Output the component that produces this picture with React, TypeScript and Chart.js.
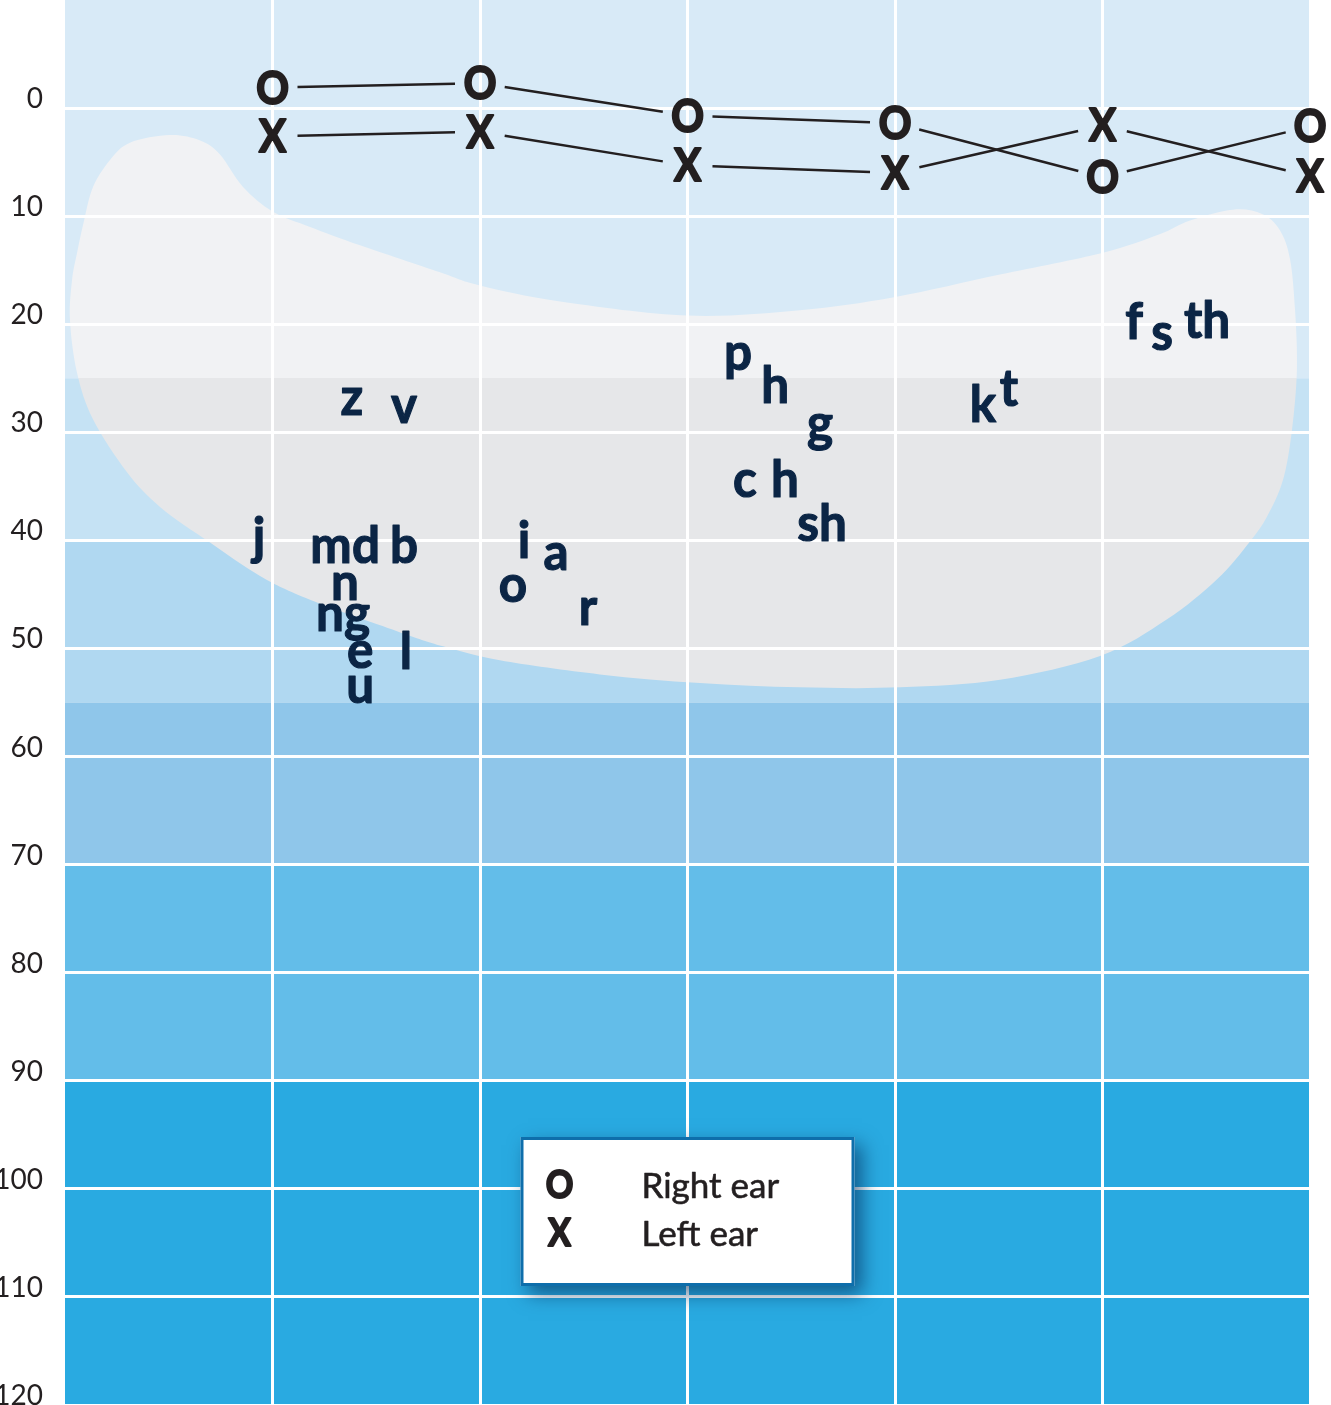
import React, { useEffect, useRef } from 'react';
import { Chart, registerables } from 'chart.js';

Chart.register(...registerables);

// Frequencies (octave index on the x axis: 0 = 125 Hz, 1 = 250 Hz ...)
const frequencies = ['250', '500', '1000', '2000', '4000', '8000'];
const freqIndex = [1, 2, 3, 4, 5, 6];

// Hearing levels (dB HL)
const rightEar = [-1.9, -2.3, 0.7, 1.4, 6.4, 1.7];
const leftEar = [2.6, 2.2, 5.3, 6.0, 1.6, 6.3];
const earLabels = ['Right ear', 'Left ear'];
const earSymbols = ['O', 'X'];

// Background severity bands (dB HL)
const bandEdges = [-10, 25, 40, 55, 70, 90, 120];
const bandColors = ['#d8eaf7', '#c5e2f4', '#b0d8f1', '#8fc6ea', '#63bde9', '#29aae1'];

// Speech sounds
const speechSounds = ['z', 'v', 'j', 'm', 'd', 'b', 'n', 'ng', 'e', 'u', 'l', 'i', 'a', 'o', 'r', 'p', 'h', 'g', 'c', 'h', 'sh', 'k', 't', 'f', 's', 'th'];
const speechOctave = [1.383, 1.634, 0.935, 1.282, 1.451, 1.634, 1.349, 1.34, 1.422, 1.422, 1.643, 2.212, 2.366, 2.159, 2.52, 3.243, 3.422, 3.639, 3.277, 3.47, 3.648, 4.424, 4.549, 5.152, 5.287, 5.504];
const speechLevel = [28.4, 29.1, 41.3, 42.1, 42.1, 42.1, 45.5, 48.4, 51.8, 55.0, 51.9, 41.6, 42.7, 45.7, 47.8, 24.2, 27.3, 30.8, 36.0, 36.0, 40.1, 29.0, 27.6, 21.4, 22.4, 21.3];

// Speech banana outline
const bananaOctave = [0.024, 0.034, 0.058, 0.092, 0.135, 0.217, 0.313, 0.506, 0.651, 0.747, 0.858, 1.002, 1.181, 1.422, 1.807, 1.995, 2.386, 3.002, 3.542, 3.995, 4.506, 4.998, 5.272, 5.422, 5.629, 5.769, 5.855, 5.904, 5.928, 5.937, 5.913, 5.87, 5.793, 5.711, 5.552, 5.311, 4.988, 4.506, 4.024, 3.542, 3.06, 2.578, 2.096, 1.822, 1.6, 1.181, 0.94, 0.699, 0.458, 0.299, 0.135, 0.058];
const bananaLevel = [19.6, 15.9, 13.4, 10.4, 7.3, 4.8, 3.2, 2.5, 3.0, 4.3, 7.3, 9.6, 11.0, 12.7, 15.2, 16.4, 17.9, 19.2, 18.7, 17.5, 15.4, 13.4, 11.7, 10.4, 9.4, 9.8, 11.3, 14.0, 18.7, 24.2, 29.8, 34.4, 37.8, 40.1, 43.6, 47.3, 50.7, 52.9, 53.6, 53.6, 53.2, 52.4, 51.1, 49.8, 48.4, 45.5, 43.3, 40.2, 36.9, 33.7, 28.8, 24.5];
const bananaSplitLevel = 25;

const TEXT_DARK = '#231f20';
const SPEECH_COLOR = '#0b2545';
const FONT = 'Lato, "Open Sans", sans-serif';

const backgroundPlugin = {
  id: 'audiogramBackground',
  beforeDraw(chart: any) {
    const { ctx, chartArea, scales } = chart;
    const x = scales.x;
    const y = scales.y;
    ctx.save();
    for (let i = 0; i < bandColors.length; i++) {
      const y0 = y.getPixelForValue(bandEdges[i]);
      const y1 = y.getPixelForValue(bandEdges[i + 1]);
      ctx.fillStyle = bandColors[i];
      ctx.fillRect(chartArea.left, y0, chartArea.right - chartArea.left, y1 - y0);
    }
    // speech banana
    const pts = bananaOctave.map((o, i) => ({ x: x.getPixelForValue(o), y: y.getPixelForValue(bananaLevel[i]) }));
    const n = pts.length;
    ctx.beginPath();
    ctx.moveTo(pts[0].x, pts[0].y);
    for (let i = 0; i < n; i++) {
      const p0 = pts[(i - 1 + n) % n];
      const p1 = pts[i];
      const p2 = pts[(i + 1) % n];
      const p3 = pts[(i + 2) % n];
      ctx.bezierCurveTo(
        p1.x + (p2.x - p0.x) / 6, p1.y + (p2.y - p0.y) / 6,
        p2.x - (p3.x - p1.x) / 6, p2.y - (p3.y - p1.y) / 6,
        p2.x, p2.y
      );
    }
    ctx.closePath();
    const top = chartArea.top;
    const bottom = chartArea.bottom;
    const t = (y.getPixelForValue(bananaSplitLevel) - top) / (bottom - top);
    const grad = ctx.createLinearGradient(0, top, 0, bottom);
    grad.addColorStop(0, '#f1f2f4');
    grad.addColorStop(t, '#f1f2f4');
    grad.addColorStop(Math.min(1, t + 0.0001), '#e6e7e9');
    grad.addColorStop(1, '#e6e7e9');
    ctx.fillStyle = grad;
    ctx.fill();
    ctx.restore();
  },
};

function heavyText(ctx: any, text: string, x: number, y: number, strokeW: number, sx = 1) {
  ctx.save();
  ctx.translate(x, y);
  ctx.scale(sx, 1);
  ctx.fillText(text, 0, 0);
  if (strokeW > 0) {
    ctx.lineWidth = strokeW;
    ctx.lineJoin = 'round';
    ctx.strokeStyle = ctx.fillStyle;
    ctx.strokeText(text, 0, 0);
  }
  ctx.restore();
}

const marksPlugin = {
  id: 'audiogramMarks',
  afterDatasetsDraw(chart: any) {
    const { ctx } = chart;
    ctx.save();
    // speech sounds
    const speechMeta = chart.getDatasetMeta(0);
    ctx.fillStyle = SPEECH_COLOR;
    ctx.font = `bold 52px ${FONT}`;
    ctx.textAlign = 'center';
    ctx.textBaseline = 'alphabetic';
    speechMeta.data.forEach((el: any, i: number) => {
      heavyText(ctx, speechSounds[i], el.x, el.y, 1.2, 0.95);
    });
    // ears
    const gap = 25;
    [1, 2].forEach((di, k) => {
      const meta = chart.getDatasetMeta(di);
      const els = meta.data;
      ctx.strokeStyle = TEXT_DARK;
      ctx.lineWidth = 2.5;
      for (let i = 0; i < els.length - 1; i++) {
        const a = els[i];
        const b = els[i + 1];
        const dx = b.x - a.x;
        const dy = b.y - a.y;
        const len = Math.hypot(dx, dy);
        const ux = dx / len;
        const uy = dy / len;
        ctx.beginPath();
        ctx.moveTo(a.x + ux * gap, a.y + uy * gap);
        ctx.lineTo(b.x - ux * gap, b.y - uy * gap);
        ctx.stroke();
      }
      ctx.fillStyle = TEXT_DARK;
      ctx.font = `bold 45px ${FONT}`;
      ctx.textAlign = 'center';
      ctx.textBaseline = 'alphabetic';
      els.forEach((el: any) => {
        heavyText(ctx, earSymbols[k], el.x, el.y + 16, 2.2, 0.9);
      });
    });
    ctx.restore();
  },
};

const legendPlugin = {
  id: 'audiogramLegend',
  afterDraw(chart: any) {
    const { ctx, chartArea } = chart;
    const w = 334;
    const h = 149;
    const x0 = (chartArea.left + chartArea.right) / 2 - w / 2;
    const y0 = chartArea.bottom - 119 - h;
    ctx.save();
    ctx.shadowColor = 'rgba(0, 40, 85, 0.6)';
    ctx.shadowBlur = 18;
    ctx.shadowOffsetX = 7;
    ctx.shadowOffsetY = 8;
    ctx.fillStyle = '#ffffff';
    ctx.fillRect(x0, y0, w, h);
    ctx.restore();
    ctx.save();
    ctx.strokeStyle = '#0e6eab';
    ctx.lineWidth = 3;
    ctx.strokeRect(x0 + 1.5, y0 + 1.5, w - 3, h - 3);
    ctx.fillStyle = TEXT_DARK;
    ctx.textBaseline = 'alphabetic';
    const rows = [61, 109];
    for (let i = 0; i < 2; i++) {
      ctx.font = `bold 38px ${FONT}`;
      ctx.textAlign = 'center';
      heavyText(ctx, earSymbols[i], x0 + 39, y0 + rows[i], 2, 0.9);
      ctx.font = `35px ${FONT}`;
      ctx.textAlign = 'left';
      heavyText(ctx, chart.data.datasets[i + 1].label, x0 + 121, y0 + rows[i], 0.6, 1);
    }
    ctx.restore();
  },
};

export default function App() {
  const canvasRef = useRef<HTMLCanvasElement | null>(null);

  useEffect(() => {
    const canvas = canvasRef.current;
    if (!canvas) return;
    const chart = new Chart(canvas, {
      type: 'scatter',
      data: {
        labels: frequencies,
        datasets: [
          {
            label: 'Speech sounds',
            data: speechOctave.map((o, i) => ({ x: o, y: speechLevel[i] })),
            pointRadius: 0,
            showLine: false,
          },
          {
            label: earLabels[0],
            data: freqIndex.map((f, i) => ({ x: f, y: rightEar[i] })),
            pointRadius: 0,
            showLine: false,
          },
          {
            label: earLabels[1],
            data: freqIndex.map((f, i) => ({ x: f, y: leftEar[i] })),
            pointRadius: 0,
            showLine: false,
          },
        ],
      },
      options: {
        responsive: false,
        animation: false,
        events: [],
        layout: { padding: { left: 0, top: 0, right: 21, bottom: 0 } },
        plugins: {
          legend: { display: false },
          tooltip: { enabled: false },
        },
        scales: {
          x: {
            type: 'linear',
            min: 0,
            max: 6,
            ticks: { display: false, stepSize: 1 },
            grid: {
              drawTicks: false,
              lineWidth: 3,
              color: (c: any) => (c.tick && c.tick.value === 0 ? 'rgba(0,0,0,0)' : '#ffffff'),
            },
            border: { display: false },
            afterFit: (s: any) => {
              s.height = 0;
              s.paddingLeft = 0;
              s.paddingRight = 0;
            },
          },
          y: {
            type: 'linear',
            reverse: true,
            min: -10,
            max: 120,
            ticks: {
              stepSize: 10,
              color: TEXT_DARK,
              font: { family: FONT, size: 28 },
              padding: 22,
              labelOffset: -9,
              callback: (v: any) => (v === -10 ? '' : String(v)),
            },
            grid: {
              drawTicks: false,
              lineWidth: 3,
              color: (c: any) => (c.tick && c.tick.value === -10 ? 'rgba(0,0,0,0)' : '#ffffff'),
            },
            border: { display: false },
            afterFit: (s: any) => {
              s.width = 65;
              s.paddingTop = 0;
              s.paddingBottom = 0;
            },
          },
        },
      },
      plugins: [backgroundPlugin, marksPlugin, legendPlugin],
    } as any);
    return () => chart.destroy();
  }, []);

  return (
    <div style={{ position: 'absolute', left: 0, top: 0, width: 1331, height: 1405, overflow: 'hidden' }}>
      <canvas ref={canvasRef} width={1331} height={1405} style={{ display: 'block' }} />
    </div>
  );
}
